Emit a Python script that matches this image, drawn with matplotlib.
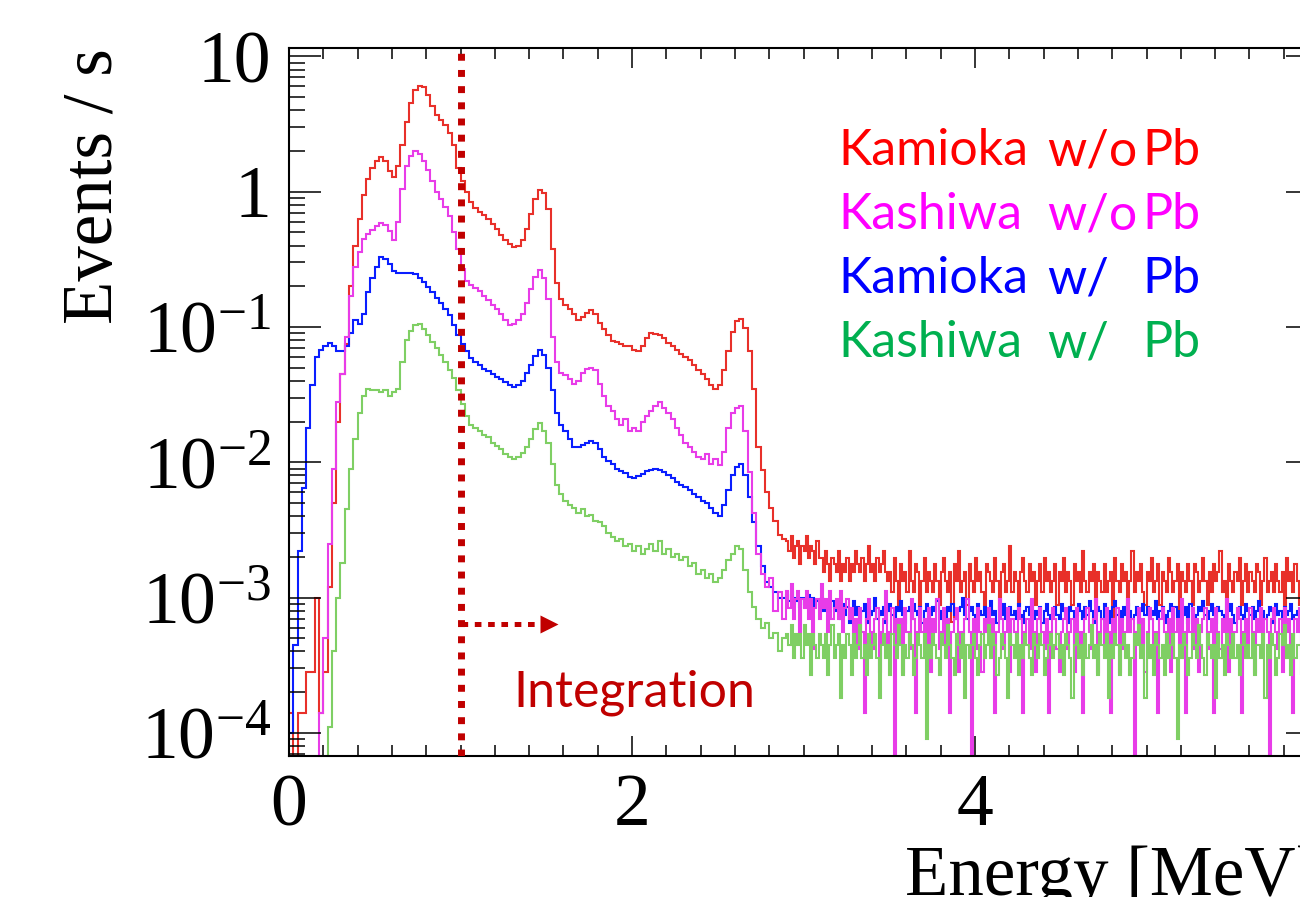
import numpy as np
import matplotlib
matplotlib.use("Agg")
import matplotlib.pyplot as plt
from matplotlib.ticker import FixedLocator, FixedFormatter, MultipleLocator, LogLocator, NullFormatter

plt.rcParams['font.family'] = 'Liberation Serif'
plt.rcParams['mathtext.fontset'] = 'custom'
plt.rcParams['mathtext.rm'] = 'Liberation Serif'
plt.rcParams['mathtext.it'] = 'Liberation Serif:italic'

W, H = 1300, 897
head_bin = 0.025    # MeV, 0 - 2.9 MeV
tail_bin = 0.0125   # MeV, 2.9 - 6 MeV
tail_start = 2.9

#------------------------------------------------------------------
# rates [events/s] per bin, 0 - 2.9 MeV
kamioka_nopb = [1.4e-4, 0, 1.4e-4, 1.4e-4, 2.8e-4, 2.8e-4, 1.0e-3, 1.4e-4, 2.8e-4, 1.2e-3,
                5e-3, 0.02, 0.045, 0.075, 0.2, 0.4, 0.63, 0.95, 1.25, 1.5,
                1.7, 1.8, 1.7, 1.42, 1.29, 1.55, 2.2, 3.3, 4.5, 5.6,
                6.0, 5.9, 5.2, 4.3, 3.7, 3.4, 3.1, 2.7, 2.2, 1.5,
                1.2, 1.0, 0.84, 0.76, 0.71, 0.67, 0.63, 0.58, 0.53, 0.48,
                0.44, 0.41, 0.39, 0.40, 0.44, 0.53, 0.68, 0.88, 1.03, 0.98,
                0.75, 0.38, 0.21, 0.16, 0.145, 0.135, 0.125, 0.113, 0.118, 0.128,
                0.134, 0.125, 0.108, 0.097, 0.087, 0.079, 0.077, 0.075, 0.073, 0.072,
                0.068, 0.066, 0.072, 0.083, 0.090, 0.089, 0.087, 0.083, 0.076, 0.073,
                0.068, 0.063, 0.060, 0.057, 0.052, 0.048, 0.045, 0.041, 0.037, 0.035,
                0.037, 0.048, 0.066, 0.092, 0.110, 0.114, 0.098, 0.066, 0.035, 0.013,
                0.0088, 0.0060, 0.0046, 0.0037, 0.0029, 0.0027]
kashiwa_nopb = [0, 0, 0, 0, 0, 0, 0, 1.4e-4, 5e-4, 2.5e-3,
                9e-3, 0.028, 0.045, 0.085, 0.17, 0.28, 0.36, 0.45, 0.49, 0.52,
                0.56, 0.59, 0.57, 0.51, 0.44, 0.60, 1.05, 1.55, 1.85, 2.0,
                1.9, 1.7, 1.45, 1.2, 1.0, 0.88, 0.77, 0.66, 0.5, 0.38,
                0.27, 0.22, 0.205, 0.195, 0.185, 0.17, 0.158, 0.145, 0.135, 0.125,
                0.112, 0.103, 0.105, 0.113, 0.125, 0.15, 0.19, 0.235, 0.265, 0.23,
                0.16, 0.085, 0.055, 0.046, 0.044, 0.041, 0.038, 0.040, 0.046, 0.049,
                0.050, 0.048, 0.038, 0.031, 0.026, 0.024, 0.021, 0.019, 0.021, 0.017,
                0.018, 0.017, 0.020, 0.022, 0.024, 0.026, 0.028, 0.025, 0.023, 0.021,
                0.018, 0.016, 0.014, 0.013, 0.012, 0.011, 0.0105, 0.0115, 0.0098, 0.0105,
                0.0095, 0.012, 0.018, 0.023, 0.025, 0.026, 0.017, 0.0085, 0.0042, 0.0021,
                0.0015, 0.0012, 0.0014, 0.0008, 0.0011, 0.0007]
kamioka_pb = [1.0e-4, 4.5e-4, 2.2e-3, 6.5e-3, 0.018, 0.037, 0.060, 0.068, 0.072, 0.076,
              0.072, 0.067, 0.066, 0.072, 0.09, 0.113, 0.105, 0.125, 0.18, 0.23,
              0.28, 0.33, 0.32, 0.29, 0.26, 0.252, 0.25, 0.25, 0.25, 0.245,
              0.23, 0.215, 0.198, 0.18, 0.165, 0.15, 0.137, 0.122, 0.103, 0.088,
              0.075, 0.066, 0.059, 0.055, 0.052, 0.049, 0.047, 0.045, 0.043, 0.041,
              0.039, 0.037, 0.036, 0.037, 0.040, 0.046, 0.052, 0.061, 0.068, 0.062,
              0.050, 0.034, 0.023, 0.019, 0.017, 0.015, 0.013, 0.013, 0.0135, 0.014,
              0.0145, 0.0138, 0.0125, 0.011, 0.0102, 0.0097, 0.0090, 0.0086, 0.0083, 0.0078,
              0.0076, 0.0079, 0.0082, 0.0086, 0.0088, 0.009, 0.0088, 0.0085, 0.0080, 0.0076,
              0.0072, 0.0068, 0.0066, 0.0062, 0.0058, 0.0055, 0.0052, 0.0050, 0.0046, 0.0042,
              0.0040, 0.0048, 0.0062, 0.0080, 0.0093, 0.0098, 0.0080, 0.0055, 0.0036, 0.0024,
              0.0017, 0.0013, 0.0012, 0.0011, 0.0010, 0.0010]
kashiwa_pb = [0, 0, 0, 0, 0, 0, 0, 0, 0, 1.1e-4,
              4e-4, 1.0e-3, 1.8e-3, 4.5e-3, 9e-3, 0.015, 0.023, 0.031, 0.035, 0.034,
              0.034, 0.033, 0.034, 0.031, 0.033, 0.035, 0.055, 0.08, 0.093, 0.103,
              0.106, 0.097, 0.088, 0.078, 0.07, 0.062, 0.055, 0.048, 0.042, 0.034,
              0.027, 0.022, 0.019, 0.018, 0.017, 0.016, 0.0153, 0.014, 0.0132, 0.0125,
              0.0115, 0.011, 0.0106, 0.011, 0.0118, 0.013, 0.015, 0.0175, 0.0195, 0.017,
              0.014, 0.0098, 0.0068, 0.0058, 0.0052, 0.0048, 0.0046, 0.0042, 0.0045, 0.0040,
              0.0041, 0.0037, 0.0036, 0.0034, 0.0030, 0.0028, 0.0026, 0.0027, 0.0024, 0.0025,
              0.0022, 0.0024, 0.0021, 0.0023, 0.0025, 0.0022, 0.0026, 0.0021, 0.0023, 0.0020,
              0.0021, 0.0019, 0.0020, 0.0017, 0.0018, 0.0015, 0.0016, 0.0014, 0.0015, 0.0013,
              0.0014, 0.0016, 0.0019, 0.0021, 0.0024, 0.0023, 0.0016, 0.0011, 0.00085, 0.0007,
              0.0006, 0.00065, 0.0005, 0.00055, 0.0004, 0.0005]

# 2.9 - 6 MeV: counts per bin, and rate of one count
kamioka_nopb_tail = [12, 10, 13, 9, 11, 12, 8, 11, 10, 13, 9, 11, 10, 8, 12, 9,
                     9, 7, 10, 8, 6, 9, 8, 7, 10, 6, 8, 7, 9, 6, 8, 7,
                     10, 8, 7, 9, 6, 8, 11, 7, 8, 6, 9, 7, 8, 10, 7, 6,
                     7, 5, 9, 6, 4, 8, 6, 7, 5, 10, 6, 5, 8, 7, 4, 6, 9, 5, 7, 6,
                     5, 8, 6, 4, 7, 9, 6, 5, 7, 3, 8, 6, 10, 5, 6, 7, 4, 8, 6, 5,
                     9, 6, 7, 5, 4, 8, 7, 6, 5, 9, 6, 4, 7, 8, 5, 6, 11, 5, 7, 6,
                     4, 7, 9, 6, 5, 8, 6, 7, 4, 6, 8, 5, 9, 6, 7, 5, 6, 8, 4, 7,
                     6, 9, 5, 7, 6, 4, 8, 6, 7, 5, 10, 6, 5, 7, 6, 8, 4, 7, 6, 5,
                     8, 5, 6, 7, 3, 9, 6, 5, 8, 6, 7, 4, 6, 10, 5, 7, 6, 8, 5, 4,
                     7, 6, 9, 5, 6, 8, 4, 7, 6, 5, 9, 7, 5, 6, 8, 3, 7, 6, 5, 8,
                     6, 4, 8, 7, 5, 6, 9, 6, 4, 7, 5, 8, 6, 7, 10, 5, 6, 4, 8, 6,
                     5, 7, 6, 9, 4, 6, 8, 5, 7, 6, 5, 8, 7, 4, 6, 9, 5, 6, 7, 5,
                     8, 6, 5, 7, 4, 9, 6, 7, 5, 8, 6, 4, 7, 6, 10, 5, 8, 6, 5, 7]
kashiwa_nopb_tail = [8, 6, 9, 5, 7, 8, 4, 7, 6, 8, 5, 7, 3, 6, 7, 5,
                     9, 6, 7, 4, 8, 5, 6, 7, 5, 8, 4, 6, 7, 5, 6, 3,
                     5, 3, 6, 4, 1, 5, 7, 4, 3, 5, 6, 2, 4, 5, 8, 3, 4, 6, 0, 5,
                     4, 5, 2, 6, 4, 3, 7, 5, 1, 4, 6, 4, 5, 3, 6, 2, 5, 4, 7, 3,
                     4, 6, 3, 5, 1, 4, 5, 6, 2, 4, 3, 5, 7, 4, 0, 5, 3, 6, 4, 2,
                     5, 4, 6, 3, 5, 1, 4, 7, 5, 3, 4, 6, 2, 5, 4, 3, 6, 5, 1, 4,
                     5, 3, 7, 4, 2, 5, 6, 4, 3, 5, 1, 4, 6, 5, 3, 2, 4, 5, 6, 3,
                     4, 5, 2, 6, 3, 4, 1, 5, 6, 4, 3, 5, 7, 2, 4, 5, 3, 6, 4, 1,
                     5, 4, 6, 2, 5, 3, 4, 7, 4, 5, 0, 4, 6, 3, 5, 2, 4, 6, 5, 3,
                     4, 1, 5, 6, 4, 3, 5, 2, 6, 4, 5, 3, 7, 4, 1, 5, 4, 6, 3, 5,
                     2, 4, 5, 6, 3, 4, 5, 1, 6, 4, 3, 5, 4, 7, 2, 5, 3, 4, 6, 5,
                     1, 4, 5, 3, 6, 4, 2, 5, 4, 6, 3, 5, 4, 0, 5, 6,
                     4, 3, 5, 2, 6, 4, 5, 3, 1, 5, 4, 6, 3, 4, 5, 2, 6, 4, 3, 5]
kamioka_pb_tail = [21, 19, 22, 18, 20, 19, 17, 20, 18, 19, 21, 18, 20, 17, 19, 18, 20, 16, 19, 18, 17, 19, 16, 18,
                   16, 14, 18, 15, 17, 13, 16, 19, 15, 17, 14, 16, 18, 13, 17, 15, 16, 20, 14, 16,
                   15, 17, 13, 16, 18, 15, 14, 17, 16, 19, 15, 13, 16, 17, 14, 18, 16, 15, 17, 13,
                   16, 18, 14, 15, 17, 16, 19, 14, 16, 15, 13, 17, 16, 18, 15, 14, 16, 17, 20, 15,
                   14, 16, 17, 15, 13, 18, 16, 15, 17, 14, 16, 19, 15, 16, 13, 17, 15, 18, 14, 16,
                   17, 15, 16, 14, 18, 15, 13, 16, 17, 15, 19, 14, 16, 15, 17, 13, 16, 18, 15, 14,
                   16, 17, 15, 14, 18, 16, 15, 13, 17, 16, 14, 15, 18, 16, 14, 17, 15, 19, 16, 13,
                   15, 17, 16, 14, 18, 15, 16, 13, 17, 19, 15, 16, 14, 17, 15, 18, 16, 14, 15, 17,
                   13, 16, 18, 15, 17, 14, 16, 15, 19, 14, 16, 17, 15, 13, 16, 18, 15, 17, 14, 16,
                   16, 15, 17, 13, 18, 16, 14, 15, 17, 16, 19, 15, 14, 16, 18, 15, 13, 17, 16, 15,
                   14, 17, 16, 18, 15, 13, 16, 17, 15, 14, 18, 16, 15, 17, 14, 16, 19, 15, 16, 14,
                   15, 17, 16, 13, 18, 15, 16, 14, 17, 15, 16, 18, 14, 15, 16, 13, 17, 16, 15, 18,
                   17, 14, 16, 15]
kashiwa_pb_tail = [6, 5, 7, 4, 6, 5, 6, 4, 7, 5, 6, 3, 6, 5, 4, 6,
                   5, 4, 6, 3, 5, 7, 4, 5, 6, 2, 5, 4, 6, 5, 3, 6, 4, 5, 7, 4,
                   5, 3, 6, 4, 5, 6, 4, 2, 5, 6, 4, 5, 3, 6, 5, 4, 7, 5, 3, 5,
                   4, 6, 5, 3, 4, 6, 5, 4, 6, 1, 5, 4, 6, 5, 4, 3, 6, 5, 4, 7,
                   5, 4, 3, 6, 5, 4, 6, 2, 5, 4, 5, 6, 4, 3, 5, 6, 4, 5, 7, 4,
                   6, 5, 3, 4, 6, 5, 4, 2, 6, 5, 4, 6, 3, 5, 4, 6, 5, 4, 3, 6,
                   5, 4, 6, 5, 3, 4, 5, 6, 4, 5, 6, 4, 5, 3, 6, 5, 4, 2, 5, 6,
                   4, 5, 3, 6, 4, 5, 7, 4, 5, 3, 6, 5, 4, 6, 2, 5, 4, 6, 5, 3,
                   5, 6, 4, 5, 3, 4, 6, 5, 7, 4, 5, 2, 6, 4, 5, 3, 6, 5, 4, 5,
                   3, 6, 4, 5, 6, 4, 1, 5, 4, 6, 5, 3, 4, 6, 5, 4, 7, 5, 4, 3,
                   6, 5, 4, 5, 2, 6, 4, 5, 3, 6, 5, 4, 6, 4, 5, 3, 5, 6, 4, 5,
                   4, 6, 3, 5, 5, 4, 6, 2, 5, 4, 6, 5, 3, 4, 6, 5, 7, 4, 5, 3,
                   6, 4, 5, 5, 3, 6, 4, 5, 4, 6, 5, 2]
unit_kamioka_nopb = 2.2e-4
unit_kashiwa_nopb = 1.4e-4
unit_kamioka_pb = 0.5e-4
unit_kashiwa_pb = 0.9e-4

labels = [("Kamioka", "w/o", "#ff0000"), ("Kashiwa", "w/o", "#ff00ff"),
          ("Kamioka", "w/", "#0000ff"), ("Kashiwa", "w/", "#00b050")]
#------------------------------------------------------------------

fig = plt.figure(figsize=(W / 100, H / 100), dpi=100)
# right edge of the frame lies outside the picture (x = 6 MeV)
ax = fig.add_axes([289 / W, (H - 755.7) / H, 1029 / W, 707.4 / H])

hists = [(kamioka_nopb, kamioka_nopb_tail, unit_kamioka_nopb, '#e8302a'),
         (kamioka_pb, kamioka_pb_tail, unit_kamioka_pb, '#0a1eff'),
         (kashiwa_nopb, kashiwa_nopb_tail, unit_kashiwa_nopb, '#e83ce8'),
         (kashiwa_pb, kashiwa_pb_tail, unit_kashiwa_pb, '#7fcf64')]
for head, tail, unit, col in hists:
    vals = np.concatenate([np.array(head, float), np.array(tail, float) * unit])
    vals = np.where(vals > 0, vals, 1e-9)
    edges = np.concatenate([np.arange(len(head)) * head_bin,
                            tail_start + np.arange(len(tail) + 1) * tail_bin])
    ax.stairs(vals, edges, baseline=None, color=col, lw=1.5)

ax.set_yscale('log')
ax.set_xlim(0, 6)
ax.set_ylim(6.79e-5, 11.48)

ax.yaxis.set_major_locator(FixedLocator([1e-4, 1e-3, 1e-2, 1e-1, 1, 10]))
ax.yaxis.set_major_formatter(FixedFormatter(['$10^{-4}$', '$10^{-3}$', '$10^{-2}$', '$10^{-1}$', '1', '10']))
ax.yaxis.set_minor_locator(LogLocator(base=10, subs=np.arange(2, 10), numticks=20))
ax.yaxis.set_minor_formatter(NullFormatter())
ax.xaxis.set_major_locator(MultipleLocator(2))
ax.xaxis.set_minor_locator(MultipleLocator(0.2))

ax.tick_params(axis='y', which='major', direction='in', length=23, width=1.1,
               left=True, right=True, labelsize=53, pad=13)
ax.tick_params(axis='y', which='minor', direction='in', length=11.5, width=1.1, left=True, right=True)
ax.tick_params(axis='x', which='major', direction='in', length=14.4, width=1.1,
               bottom=True, top=True, labelsize=53, pad=13)
ax.tick_params(axis='x', which='minor', direction='in', length=7.8, width=1.1, bottom=True, top=True)
for sp in ax.spines.values():
    sp.set_linewidth(1.5)

# integration threshold
ax.axvline(1.0, color='#c00000', lw=5, linestyle=(0, (1.0, 1.33)), zorder=6)
ax.plot([1.0, 1.465], [6.4e-4, 6.4e-4], color='#c00000', lw=3.6, linestyle=(0, (1.33, 1.33)), zorder=6)
ax.plot([1.516], [6.4e-4], marker='>', ms=12.5, color='#c00000', mec='none', zorder=6)
fig.text(513 / W, 1 - 707 / H, 'Integration', family='Lato', size=36, color='#c00000', va='baseline')

# axis titles
fig.text(112 / W, 1 - 48 / H, 'Events / s', size=51, rotation=90, rotation_mode='anchor',
         ha='right', va='baseline')
fig.text(905 / W, 1 - 895 / H, 'Energy [MeV]', size=51, ha='left', va='baseline')

# legend text
for i, (site, wo, col) in enumerate(labels):
    yb = 1 - (165 + 64 * i) / H
    fig.text(838 / W, yb, site, family='Lato', size=36, color=col, va='baseline')
    fig.text(1047 / W, yb, wo, family='Lato', size=36, color=col, va='baseline')
    fig.text(1142 / W, yb, 'Pb', family='Lato', size=36, color=col, va='baseline')

fig.savefig('out.png', dpi=100)
